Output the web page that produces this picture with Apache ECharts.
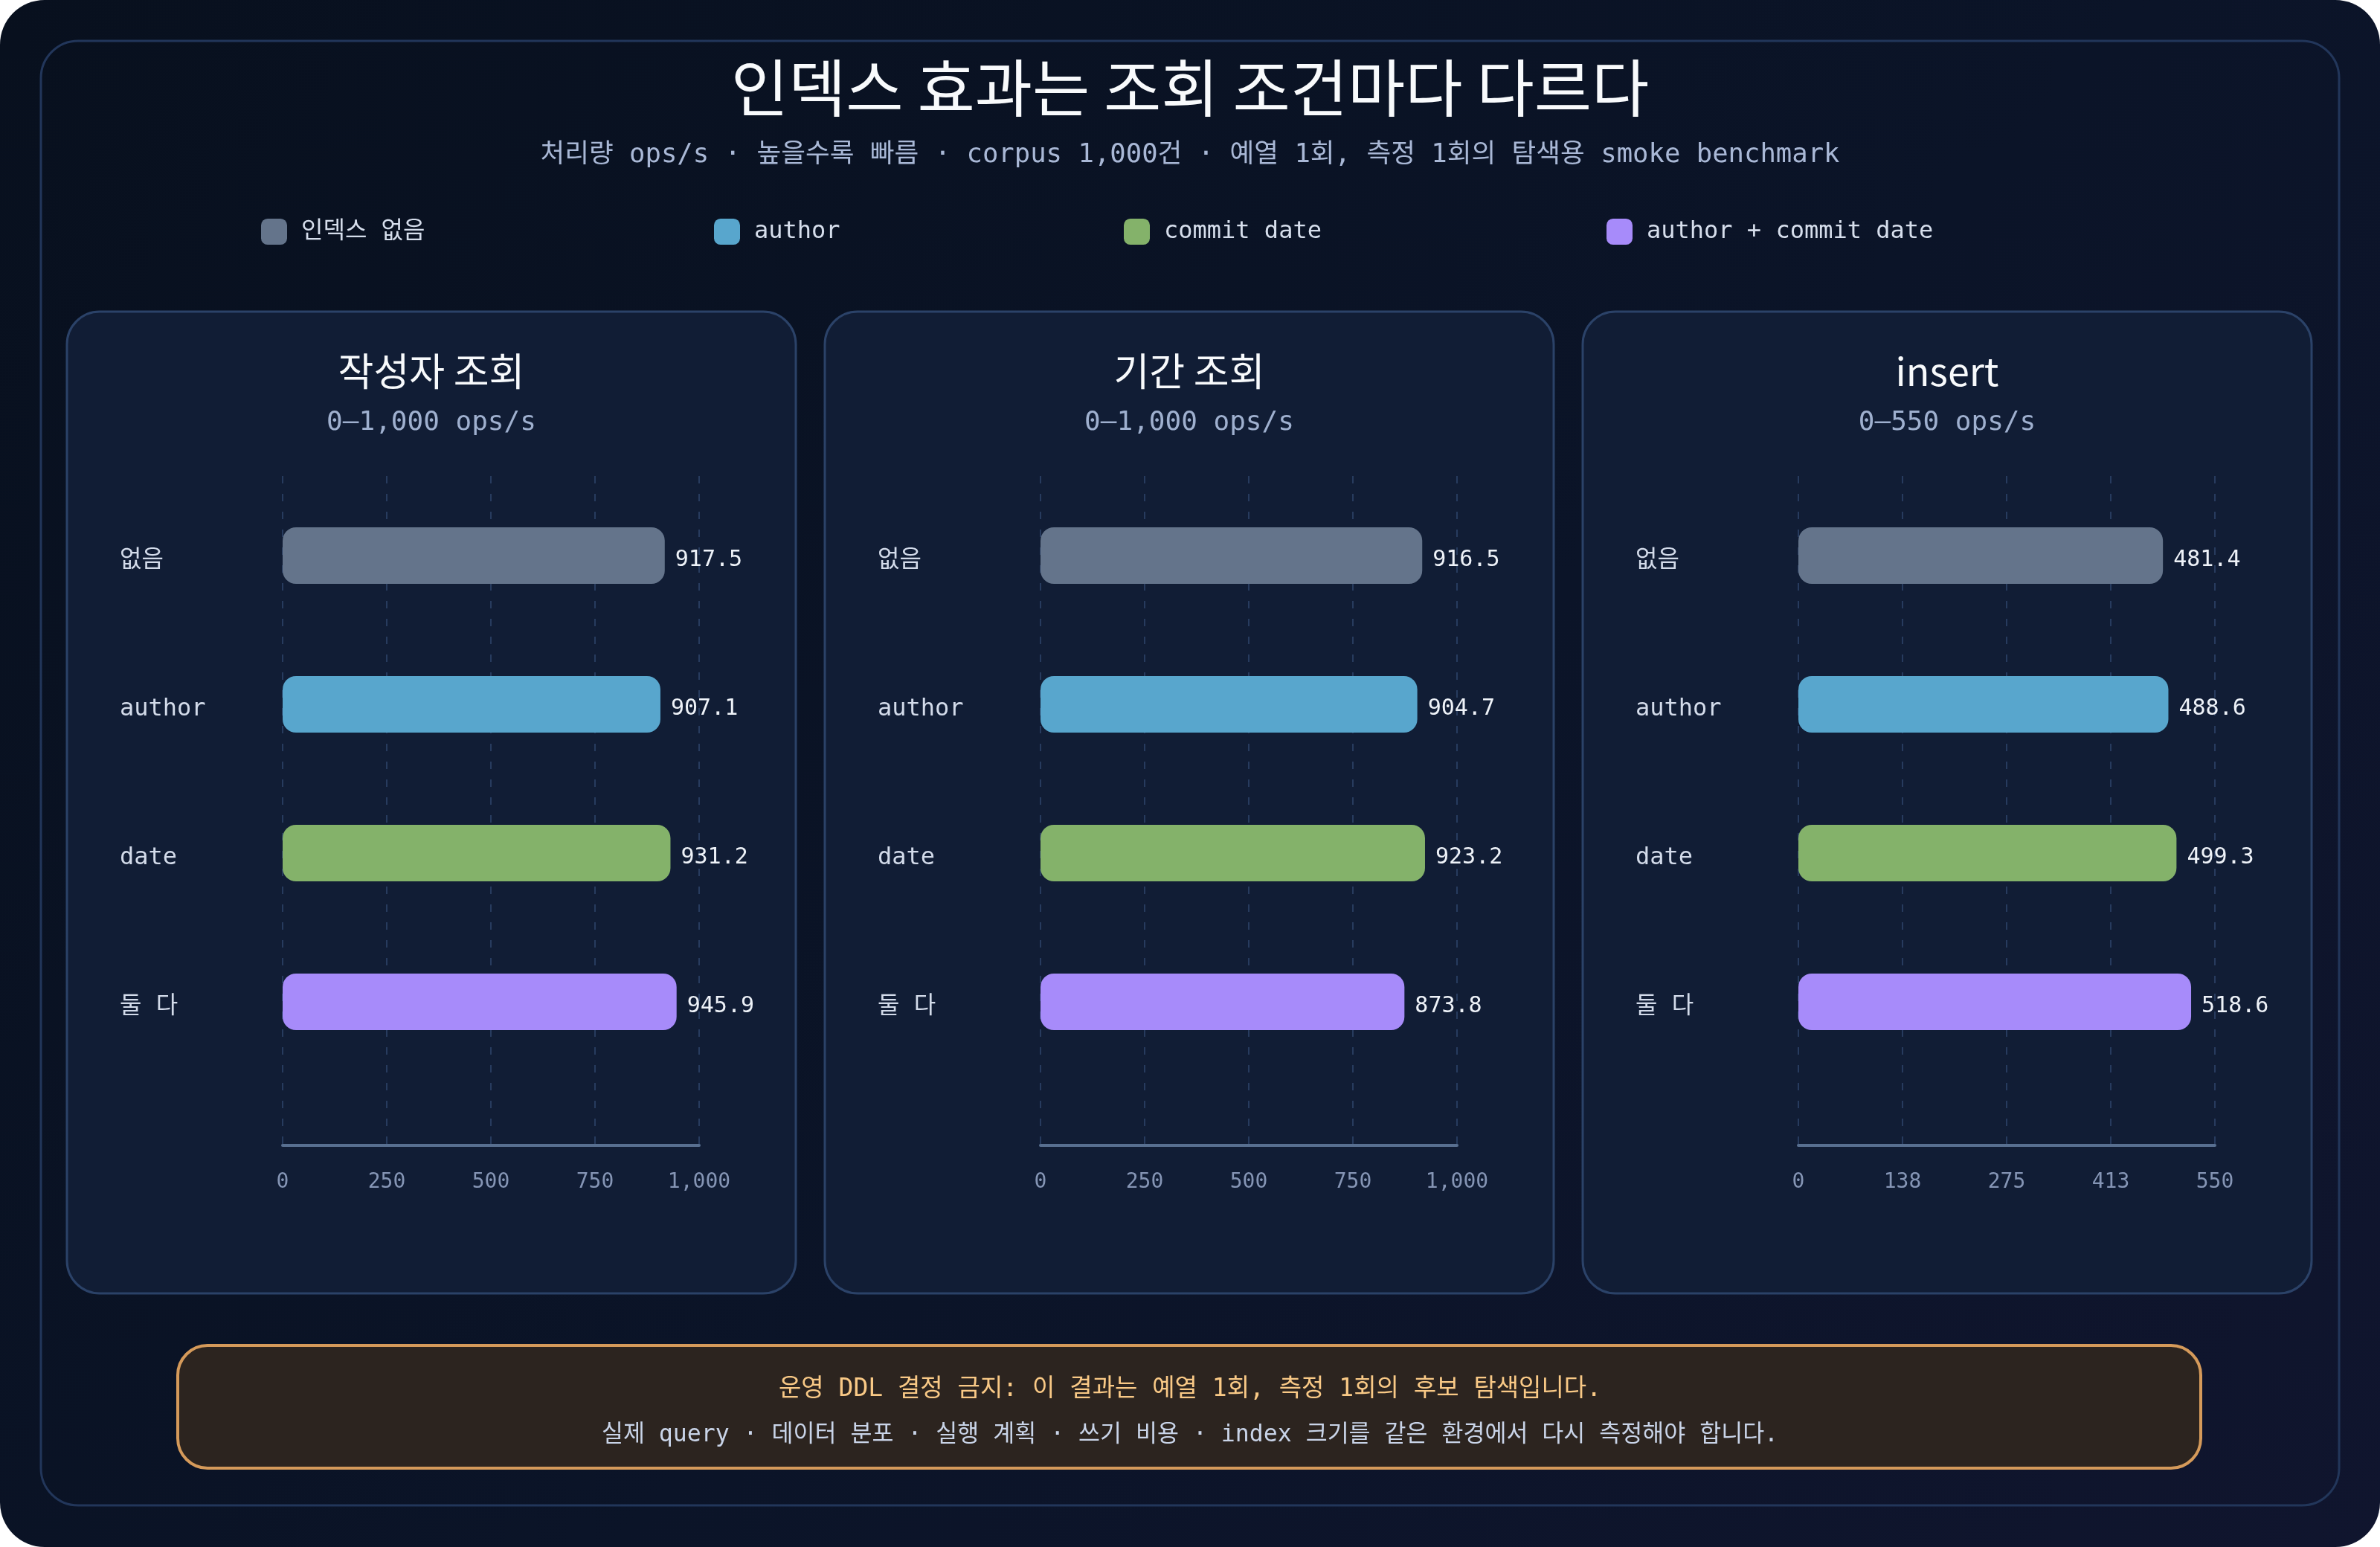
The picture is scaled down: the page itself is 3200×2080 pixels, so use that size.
<!DOCTYPE html>
<html lang="ko">
<head>
<meta charset="utf-8">
<title>인덱스 효과는 조회 조건마다 다르다</title>
<script src="https://cdn.jsdelivr.net/npm/echarts@6/dist/echarts.min.js"></script>
<style>
  html, body { margin: 0; padding: 0; background: #ffffff; }
  #chart {
    width: 3200px; height: 2080px;
    border-radius: 60px; overflow: hidden;
    background: linear-gradient(135deg, #08101e 0%, #0b1428 55%, #10152e 100%);
  }
</style>
</head>
<body>
<div id="chart"></div>
<script>
// 데이터
const categories = ['없음', 'author', 'date', '둘 다'];
const seriesNames = ['인덱스 없음', 'author', 'commit date', 'author + commit date'];
const authorLookup = [917.5, 907.1, 931.2, 945.9];
const periodLookup = [916.5, 904.7, 923.2, 873.8];
const insertOps = [481.4, 488.6, 499.3, 518.6];

const panelTitles = ['작성자 조회', '기간 조회', 'insert'];
const panelRanges = ['0–1,000 ops/s', '0–1,000 ops/s', '0–550 ops/s'];
const axisMax = [1000, 1000, 550];
const axisStep = [250, 250, 137.5];
const panelValues = [authorLookup, periodLookup, insertOps];

const colors = ['#64748b', '#58a6cd', '#84b26a', '#a78bfa'];

const SANS = '"Noto Sans CJK KR", "Noto Sans", sans-serif';
const MONO = '"DejaVu Sans Mono", "Noto Sans CJK KR", monospace';

// 레이아웃
const panelLeft = [90, 1109, 2128];
const panelW = 980;
const panelTop = 419;
const panelH = 1320;
const plotOffset = 290;
const plotW = 560;

const chart = echarts.init(document.getElementById('chart'), null, { renderer: 'canvas' });

const grid = [];
const xAxis = [];
const yAxis = [];
const series = [];
const graphic = [];

// 외곽 프레임
graphic.push({
  type: 'rect', z: -10, silent: true,
  shape: { x: 55, y: 55, width: 3090, height: 1969, r: 50 },
  style: { fill: 'transparent', stroke: '#22365a', lineWidth: 3 }
});

// 제목
graphic.push({
  type: 'text', x: 1600, y: 118,
  style: { text: '인덱스 효과는 조회 조건마다 다르다', font: '400 84px ' + SANS, fill: '#f8fafc', align: 'center', verticalAlign: 'middle' }
});
graphic.push({
  type: 'text', x: 1600, y: 209,
  style: { text: '처리량 ops/s · 높을수록 빠름 · corpus 1,000건 · 예열 1회, 측정 1회의 탐색용 smoke benchmark', font: '35.6px ' + MONO, fill: '#a9b8d6', align: 'center', verticalAlign: 'middle' }
});

panelValues.forEach((vals, p) => {
  const px = panelLeft[p];
  const cx = px + panelW / 2;

  // 패널 배경
  graphic.push({
    type: 'rect', z: -5, silent: true,
    shape: { x: px, y: panelTop, width: panelW, height: panelH, r: 44 },
    style: { fill: '#111d35', stroke: '#2b4268', lineWidth: 3 }
  });
  graphic.push({
    type: 'text', x: cx, y: 499,
    style: { text: panelTitles[p], font: '52px ' + SANS, fill: '#f8fafc', align: 'center', verticalAlign: 'middle' }
  });
  graphic.push({
    type: 'text', x: cx, y: 569,
    style: { text: panelRanges[p], font: '36px ' + MONO, fill: '#9fb0cf', align: 'center', verticalAlign: 'middle' }
  });

  // 축 / 격자용 grid
  grid.push({ left: px + plotOffset, width: plotW, top: 640, height: 900 });
  xAxis.push({
    type: 'value', gridIndex: 2 * p, min: 0, max: axisMax[p], interval: axisStep[p],
    axisLine: { show: true, lineStyle: { color: '#586f90', width: 4 } },
    axisTick: { show: false },
    axisLabel: {
      color: '#8595b5', fontSize: 28, fontFamily: MONO, margin: 36,
      formatter: v => Math.round(v).toLocaleString('en-US')
    },
    splitLine: { show: true, lineStyle: { color: '#273b5e', width: 2, type: [10, 14] } }
  });
  yAxis.push({ type: 'value', gridIndex: 2 * p, show: false });

  // 막대용 grid
  grid.push({ left: px + plotOffset, width: plotW, top: 647, height: 800 });
  xAxis.push({ type: 'value', gridIndex: 2 * p + 1, min: 0, max: axisMax[p], show: false });
  yAxis.push({
    type: 'category', gridIndex: 2 * p + 1, data: categories, inverse: true,
    axisLine: { show: false }, axisTick: { show: false },
    axisLabel: {
      align: 'left', margin: 219,
      formatter: v => '{t|' + v + '}',
      rich: { t: { color: '#d3dbea', fontSize: 32, fontFamily: MONO, padding: [14, 0, 0, 0] } }
    }
  });

  seriesNames.forEach((name, s) => {
    series.push({
      name: name,
      type: 'bar',
      xAxisIndex: 2 * p + 1,
      yAxisIndex: 2 * p + 1,
      stack: 'panel' + p,
      barWidth: 76,
      data: vals.map((v, i) => (i === s ? v : '-')),
      itemStyle: { color: colors[s], borderRadius: 18 },
      label: {
        show: true, position: 'right', distance: 14, offset: [0, 6],
        color: '#eef2f8', fontSize: 30, fontFamily: MONO,
        formatter: d => Number(d.value).toFixed(1)
      }
    });
  });
});

// 경고 박스
graphic.push({
  type: 'rect', z: -5, silent: true,
  shape: { x: 239, y: 1809, width: 2720, height: 165, r: 40 },
  style: { fill: '#2c241f', stroke: '#d59a5a', lineWidth: 4 }
});
graphic.push({
  type: 'text', x: 1600, y: 1868,
  style: { text: '운영 DDL 결정 금지: 이 결과는 예열 1회, 측정 1회의 후보 탐색입니다.', font: '33px ' + MONO, fill: '#f9c986', align: 'center', verticalAlign: 'middle' }
});
graphic.push({
  type: 'text', x: 1600, y: 1930,
  style: { text: '실제 query · 데이터 분포 · 실행 계획 · 쓰기 비용 · index 크기를 같은 환경에서 다시 측정해야 합니다.', font: '31.5px ' + MONO, fill: '#c9d4e8', align: 'center', verticalAlign: 'middle' }
});

// 범례 (항목별 위치)
const legendLeft = [351, 960, 1511, 2160];
const legend = seriesNames.map((name, i) => ({
  data: [name],
  left: legendLeft[i],
  top: 294,
  padding: 0,
  icon: 'roundRect',
  itemWidth: 35,
  itemHeight: 35,
  selectedMode: false,
  textStyle: { color: '#d6deec', fontSize: 32, fontFamily: MONO, padding: [0, 0, 0, 14] }
}));

chart.setOption({
  backgroundColor: 'transparent',
  animation: false,
  legend: legend,
  grid: grid,
  xAxis: xAxis,
  yAxis: yAxis,
  series: series,
  graphic: graphic
});

window.addEventListener('resize', () => chart.resize());
</script>
</body>
</html>
